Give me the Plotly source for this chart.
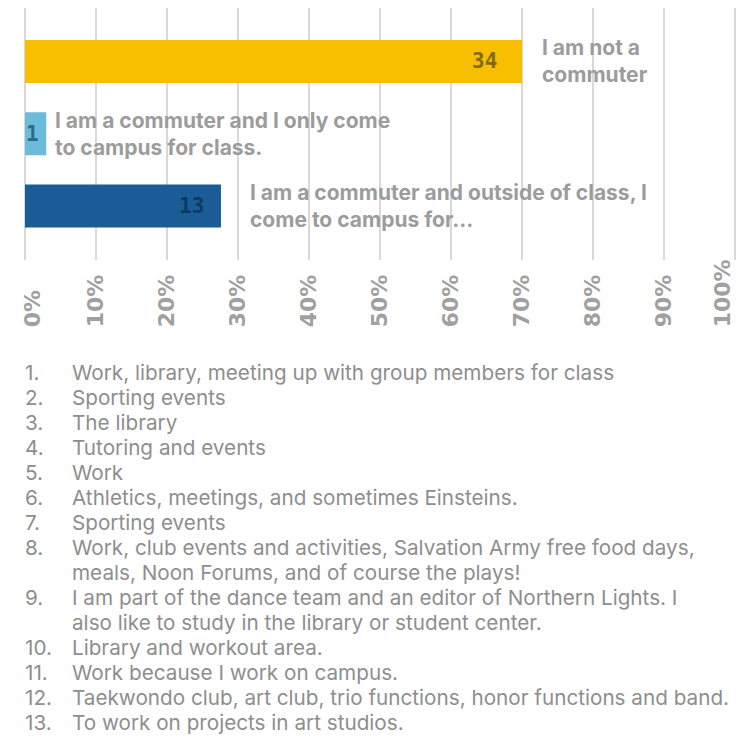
import plotly.graph_objects as go

# ---- data ----
categories = [
    "I am not a<br>commuter",
    "I am a commuter and I only come<br>to campus for class.",
    "I am a commuter and outside of class, I<br>come to campus for...",
]
counts = [34, 1, 13]
percent_values = [70.0, 3.0, 27.6]
tick_values = [0, 10, 20, 30, 40, 50, 60, 70, 80, 90, 100]
tick_labels = ["0%", "10%", "20%", "30%", "40%", "50%", "60%", "70%", "80%", "90%", "100%"]
responses = [
    "Work, library, meeting up with group members for class",
    "Sporting events",
    "The library",
    "Tutoring and events",
    "Work",
    "Athletics, meetings, and sometimes Einsteins.",
    "Sporting events",
    "Work, club events and activities, Salvation Army free food days,<br>meals, Noon Forums, and of course the plays!",
    "I am part of the dance team and an editor of Northern Lights. I<br>also like to study in the library or student center.",
    "Library and workout area.",
    "Work because I work on campus.",
    "Taekwondo club, art club, trio functions, honor functions and band.",
    "To work on projects in art studios.",
]

# ---- styles ----
bar_colors = ["#F8BE00", "#6BBCDB", "#1A5C96"]
value_colors = ["#7f6a12", "#2f6a84", "#0f3a60"]
value_pad = [25, 7, 17]
label_gap = [20, 9, 29]
grid_color = "#d9d9d9"
tick_color = "#a0a0a0"
label_color = "#9c9c9c"
list_color = "#8e8e8e"
line_pitch = 25.0
x_range = [-0.14, 100.28]

FS = "\u2007"  # figure space, pads shorter tick labels to bottom-align them
maxlen = max(len(t) for t in tick_labels)
padded = [t + FS * (maxlen - len(t)) for t in tick_labels]

fig = go.Figure()
fig.add_trace(go.Bar(
    y=categories, x=percent_values, orientation="h",
    marker=dict(color=bar_colors, line=dict(width=0)),
    width=0.595, hoverinfo="skip", showlegend=False,
))

main_text = [p if 0 < v < 100 else FS for v, p in zip(tick_values, padded)]
tickfont = dict(family="DejaVu Sans", size=22, color=tick_color, weight="bold")
common = dict(tickangle=-90, tickfont=tickfont, showline=False, ticks="",
              ticklabelstandoff=-6, gridcolor=grid_color, gridwidth=2,
              automargin=False)
fig.update_layout(
    xaxis=dict(range=x_range, tickmode="array", tickvals=tick_values, ticktext=main_text,
               showgrid=True, zeroline=True, zerolinecolor=grid_color, zerolinewidth=2,
               **common),
    xaxis2=dict(range=x_range, overlaying="x", matches="x", anchor="y", side="bottom",
                tickmode="array", tickvals=[tick_values[0]], ticktext=[padded[0]],
                ticklabelshift=8, showgrid=True, zeroline=False, **common),
    xaxis3=dict(range=x_range, overlaying="x", matches="x", anchor="y", side="bottom",
                tickmode="array", tickvals=[tick_values[-1]], ticktext=[padded[-1]],
                ticklabelshift=-12, showgrid=True, zeroline=False, **common),
    yaxis=dict(type="category", categoryorder="array", categoryarray=categories[::-1],
               range=[-0.747, 2.740], showticklabels=False, showgrid=False,
               zeroline=False, showline=False, ticks="", automargin=False),
)
for ax in ["x2", "x3"]:
    fig.add_trace(go.Scatter(x=[None], y=[None], xaxis=ax, yaxis="y", showlegend=False,
                             hoverinfo="skip"))

annotations = []
for i, cat in enumerate(categories):
    annotations.append(dict(
        x=percent_values[i], y=cat, xref="x", yref="y", text=str(counts[i]),
        xanchor="right", yanchor="middle", xshift=-value_pad[i], showarrow=False,
        borderpad=0, borderwidth=0,
        font=dict(family="DejaVu Sans Mono", size=21, color=value_colors[i], weight="bold"),
    ))
    annotations.append(dict(
        x=percent_values[i], y=cat, xref="x", yref="y", text=cat,
        xanchor="left", yanchor="middle", xshift=label_gap[i], showarrow=False,
        align="left", borderpad=0, borderwidth=0,
        font=dict(family="Inter", size=21, color=label_color, weight="bold"),
    ))

list_font = dict(family="Inter", size=20.7, color=list_color)
line_idx = 0
for i, r in enumerate(responses):
    parts = r.split("<br>")
    for j, part in enumerate(parts):
        ys = -112 - line_pitch * line_idx
        if j == 0:
            annotations.append(dict(
                x=0, y=0, xref="paper", yref="paper", text=f"{i + 1}.",
                xanchor="left", yanchor="middle", yshift=ys, xshift=1, showarrow=False,
                borderpad=0, borderwidth=0, font=list_font,
            ))
        annotations.append(dict(
            x=0, y=0, xref="paper", yref="paper", text=part,
            xanchor="left", yanchor="middle", yshift=ys, xshift=48, showarrow=False,
            borderpad=0, borderwidth=0, font=list_font,
        ))
        line_idx += 1

fig.update_layout(
    annotations=annotations,
    width=729, height=727, autosize=False,
    margin=dict(l=16, r=0, t=0, b=475, pad=0),
    paper_bgcolor="white", plot_bgcolor="white",
)

fig.write_html("out.html")
